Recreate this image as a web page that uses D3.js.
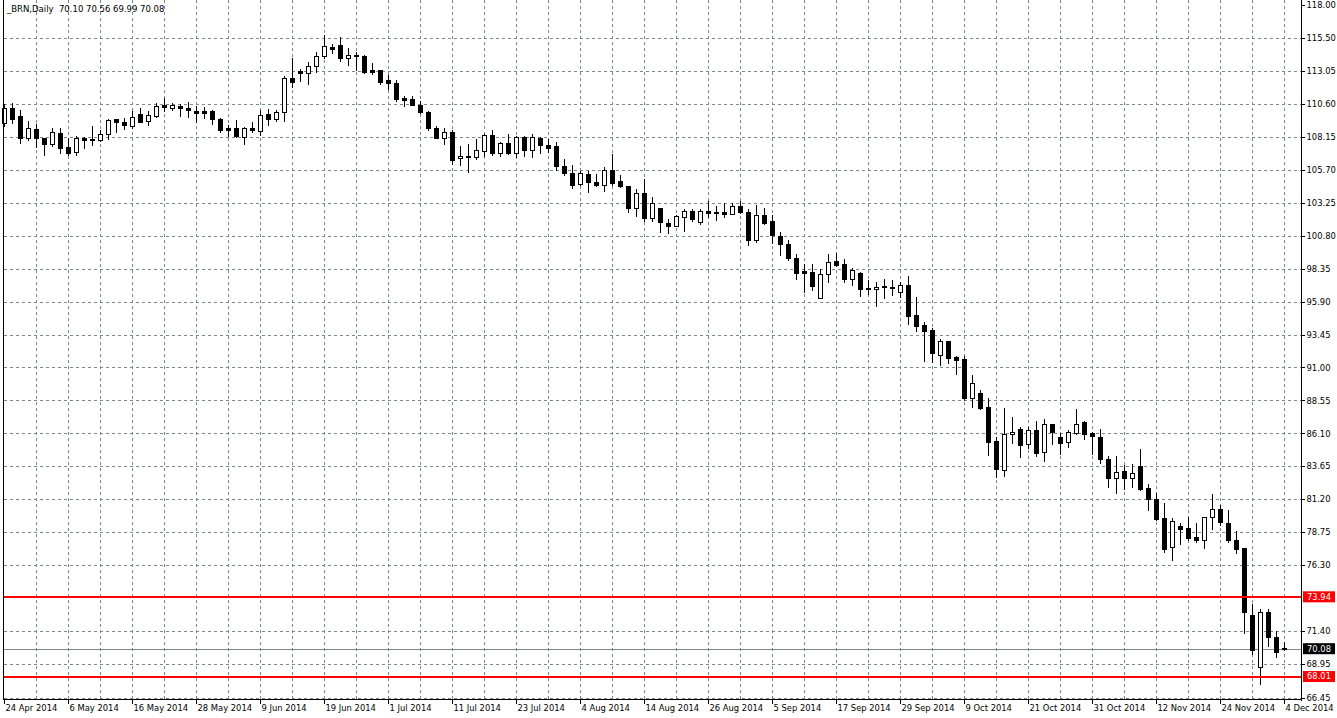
<!DOCTYPE html>
<html><head><meta charset="utf-8">
<script src="https://cdn.jsdelivr.net/npm/d3@7"></script>
<style>
html,body{margin:0;padding:0;background:#fff;}
svg{display:block;}
</style></head>
<body>
<script>
const title = "_BRN,Daily  70.10 70.56 69.99 70.08";
const openV = [109.18,110.30,109.73,108.10,108.73,108.05,107.60,108.43,107.38,107.00,108.05,108.00,107.95,108.35,109.45,109.28,108.95,109.83,109.35,109.70,110.50,110.30,110.48,110.33,110.10,110.05,110.10,109.48,108.78,108.78,108.18,108.80,108.60,109.87,109.45,110.00,112.52,113.07,112.90,113.42,114.16,114.83,115.00,114.01,114.28,114.19,113.14,113.10,112.35,112.18,111.01,110.99,110.54,109.99,108.83,108.06,108.53,106.57,106.75,106.65,107.07,108.31,106.94,107.69,106.94,108.15,107.16,108.10,107.56,107.48,106.00,105.46,104.65,105.39,104.82,104.57,105.68,104.89,104.52,102.85,104.00,102.11,102.87,101.78,101.54,102.20,102.67,101.83,102.67,102.53,102.57,102.43,103.02,102.60,100.50,102.35,101.86,100.75,100.21,99.17,98.15,98.13,96.20,97.98,98.89,98.67,97.61,98.05,96.90,96.86,97.03,97.01,96.62,97.11,94.89,94.14,93.77,91.96,92.95,91.77,91.64,88.70,89.07,88.03,85.53,83.38,86.02,86.42,85.28,86.35,84.69,86.79,85.80,85.43,86.10,86.92,86.10,85.80,84.17,82.76,83.30,82.76,83.67,82.02,81.20,79.79,77.61,79.22,79.07,78.40,78.13,79.91,80.46,79.42,78.18,77.59,72.61,68.72,72.83,70.98,70.10];
const highV = [110.60,110.65,110.15,109.35,109.10,108.10,108.85,108.80,108.10,108.23,108.15,108.95,108.65,109.48,109.50,109.55,110.05,110.30,110.05,110.68,111.03,110.70,110.63,110.78,110.45,110.35,110.15,109.55,109.03,109.40,108.88,109.28,110.12,110.24,110.17,112.67,114.04,113.22,113.71,114.46,115.70,115.05,115.60,114.78,114.46,114.24,113.67,113.14,112.77,112.40,111.23,111.19,110.79,110.09,108.95,108.83,108.63,107.51,107.64,107.96,108.38,108.63,107.76,108.38,108.22,108.22,108.35,108.17,107.98,107.76,106.50,106.08,105.58,105.63,105.39,105.88,106.87,105.34,104.52,104.30,105.02,103.71,102.87,102.03,102.33,102.80,102.77,102.77,103.36,103.04,103.21,103.26,103.36,102.82,103.12,102.87,102.35,101.05,100.45,99.41,98.72,98.72,98.35,99.41,99.54,99.09,98.42,98.10,97.53,97.36,97.56,97.48,97.36,97.78,96.25,94.39,93.97,93.15,92.95,91.84,91.84,90.43,89.32,88.70,85.80,87.95,87.34,86.54,86.55,87.02,87.14,86.79,86.10,86.35,87.91,87.04,86.17,86.40,84.42,84.42,83.75,83.80,84.91,82.34,81.65,80.90,79.79,79.42,79.86,79.42,79.91,81.60,80.78,80.41,78.85,77.59,73.43,73.03,73.03,71.42,70.56];
const lowV = [108.97,109.15,107.73,107.93,107.40,106.78,107.48,106.98,106.83,106.80,107.30,107.55,107.85,107.98,108.55,108.73,108.78,109.25,109.03,109.60,110.10,110.15,109.68,109.60,109.28,109.55,109.10,108.55,108.20,108.15,107.65,108.53,108.26,109.00,109.37,109.30,111.85,112.28,112.08,112.97,114.01,114.36,113.76,113.47,113.12,112.92,112.80,112.05,111.73,110.79,110.42,110.49,109.94,108.63,108.06,107.64,106.15,106.08,105.53,106.52,106.72,106.82,106.72,106.89,106.67,106.74,106.62,106.92,107.04,105.71,105.34,104.33,104.57,104.03,104.47,104.10,104.57,104.40,102.55,102.30,101.88,101.93,101.07,101.00,101.49,101.14,101.93,101.66,102.23,101.98,102.18,102.38,102.48,100.11,100.33,101.64,100.26,99.34,99.02,97.61,96.62,96.79,96.20,97.36,98.55,97.36,97.16,96.32,96.49,95.58,96.17,96.42,96.25,94.27,93.72,91.49,91.39,91.22,91.35,90.55,88.57,88.08,87.88,84.49,82.88,82.93,85.41,84.37,85.04,84.44,84.07,85.28,84.54,85.06,86.03,85.65,84.54,83.87,82.09,81.65,81.97,82.14,81.89,80.41,79.67,77.24,76.70,77.88,78.18,77.98,77.54,78.99,79.29,77.98,77.19,71.25,69.72,67.49,70.31,69.44,69.99];
const closeV = [110.28,109.48,108.10,108.78,108.05,107.60,108.50,107.35,106.98,108.05,107.90,107.90,108.35,109.40,109.28,109.00,109.63,109.25,109.80,110.43,110.40,110.55,110.30,110.15,109.93,109.95,109.45,108.70,108.68,108.25,108.80,108.70,109.80,109.45,110.00,112.52,112.20,112.90,113.42,114.16,114.90,114.66,114.01,114.24,114.16,113.00,113.00,112.20,112.15,110.94,110.86,110.49,109.99,108.80,108.06,108.51,106.47,106.75,106.65,107.17,108.26,106.97,107.69,106.94,108.15,107.16,108.15,107.53,107.36,105.95,105.44,104.57,105.46,104.77,104.55,105.68,104.70,104.47,102.85,104.00,102.11,103.27,101.81,101.54,102.28,102.67,102.08,102.67,102.50,102.50,102.43,103.04,102.55,100.50,102.35,101.74,100.82,100.16,99.17,98.05,98.05,97.06,97.98,98.87,98.62,97.61,98.28,96.86,96.86,97.01,97.00,96.91,97.11,94.84,94.09,93.72,92.09,92.95,91.72,91.57,88.75,89.81,88.00,85.48,83.43,86.05,86.17,85.26,86.35,84.62,86.79,86.17,85.36,86.17,86.77,86.03,85.90,84.17,82.76,83.20,82.76,83.13,81.97,81.20,79.74,77.51,79.59,79.02,78.35,78.13,79.86,80.46,79.47,78.13,77.51,72.78,69.96,72.83,70.93,69.81,70.08];
const dateLabels = ["24 Apr 2014","6 May 2014","16 May 2014","28 May 2014","9 Jun 2014","19 Jun 2014","1 Jul 2014","11 Jul 2014","23 Jul 2014","4 Aug 2014","14 Aug 2014","26 Aug 2014","5 Sep 2014","17 Sep 2014","29 Sep 2014","9 Oct 2014","21 Oct 2014","31 Oct 2014","12 Nov 2014","24 Nov 2014","4 Dec 2014"];
const barsPerLabel = 8;
const barsPerGrid = 4;
const priceTicks = [118.00,115.50,113.05,110.60,108.15,105.70,103.25,100.80,98.35,95.90,93.45,91.00,88.55,86.10,83.65,81.20,78.75,76.30,71.40,68.95,66.45];
const levelLines = [73.94, 68.01];
const lastPrice = 70.08;

const W = 1337, H = 718;
const left = 4, right = 1301, bottom = 700;
const FONT = "DejaVu Sans, Verdana, sans-serif";
const n = closeV.length;

const x = d3.scaleLinear().domain([0, n - 1]).range([4, 1284]);
const y = d3.scaleLinear().domain([66.45, 118]).range([697.5, 4.5]);
const px = v => Math.round(x(v));
const py = v => Math.round(y(v));

const svg = d3.select("body").append("svg").attr("width", W).attr("height", H)
  .style("font-family", FONT);
svg.append("rect").attr("width", W).attr("height", H).attr("fill", "#fff");

const grid = svg.append("g").attr("stroke", "#778899").attr("stroke-width", 1)
  .attr("stroke-dasharray", "3,3").attr("shape-rendering", "crispEdges");
// vertical grid
const gIdx = d3.range(barsPerGrid, n, barsPerGrid);
grid.selectAll("line.v").data(gIdx).join("line").attr("class", "v")
  .attr("x1", d => px(d) + 0.5).attr("x2", d => px(d) + 0.5)
  .attr("y1", 0).attr("y2", bottom);
// horizontal grid
grid.selectAll("line.h").data(priceTicks.slice(1)).join("line").attr("class", "h")
  .attr("x1", left).attr("x2", right)
  .attr("y1", d => py(d) + 0.5).attr("y2", d => py(d) + 0.5);

// last price line
svg.append("line").attr("x1", left).attr("x2", right)
  .attr("y1", py(lastPrice) + 0.5).attr("y2", py(lastPrice) + 0.5)
  .attr("stroke", "#808890").attr("stroke-width", 1).attr("shape-rendering", "crispEdges");

// candles
const data = d3.range(n).map(i => ({i, o: openV[i], h: highV[i], l: lowV[i], c: closeV[i]}));
const cg = svg.append("g").attr("shape-rendering", "crispEdges");
cg.selectAll("line.w").data(data).join("line").attr("class", "w")
  .attr("x1", d => px(d.i) + 0.5).attr("x2", d => px(d.i) + 0.5)
  .attr("y1", d => py(d.h)).attr("y2", d => py(d.l) + 1)
  .attr("stroke", "#000").attr("stroke-width", 1);
cg.selectAll("rect.b").data(data).join("rect").attr("class", "b")
  .attr("x", d => px(d.i) - 1.5)
  .attr("width", 4)
  .attr("y", d => py(Math.max(d.o, d.c)) + 0.5)
  .attr("height", d => Math.max(0, py(Math.min(d.o, d.c)) - py(Math.max(d.o, d.c))))
  .attr("fill", d => d.c > d.o ? "#fff" : "#000")
  .attr("stroke", "#000").attr("stroke-width", 1);

// level lines
svg.selectAll("line.lvl").data(levelLines).join("line").attr("class", "lvl")
  .attr("x1", left).attr("x2", right)
  .attr("y1", d => py(d)).attr("y2", d => py(d))
  .attr("stroke", "#ff0000").attr("stroke-width", 2).attr("shape-rendering", "crispEdges");

// frame
svg.append("line").attr("x1", 3.5).attr("x2", 3.5).attr("y1", 0).attr("y2", bottom)
  .attr("stroke", "#000").attr("shape-rendering", "crispEdges");

// right axis
const yAxis = d3.axisRight(y).tickValues(priceTicks).tickSize(3).tickSizeOuter(0)
  .tickPadding(2).tickFormat(d3.format(".2f"));
const ya = svg.append("g").attr("transform", `translate(${right + 0.5},0)`).call(yAxis);
ya.select(".domain").attr("d", `M0,0V${bottom + 0.5}`).attr("stroke", "#000").attr("shape-rendering", "crispEdges");
ya.selectAll(".tick line").attr("stroke", "#000").attr("shape-rendering", "crispEdges");
ya.selectAll(".tick text").attr("font-family", FONT).attr("font-size", "8.4px").attr("fill", "#000");

// bottom axis
const labelIdx = dateLabels.map((d, k) => k * barsPerLabel);
const xAxis = d3.axisBottom(x).tickValues(labelIdx).tickSize(4).tickSizeOuter(0)
  .tickFormat((d, k) => dateLabels[k]);
const xa = svg.append("g").attr("transform", `translate(0,${bottom - 0.5})`).call(xAxis);
xa.select(".domain").attr("d", `M${left},0H${right + 1}`).attr("stroke", "#000").attr("shape-rendering", "crispEdges");
xa.selectAll(".tick").attr("transform", d => `translate(${px(d) + 0.5},0)`);
xa.selectAll(".tick line").attr("stroke", "#000").attr("shape-rendering", "crispEdges");
xa.selectAll(".tick text").attr("font-family", FONT).attr("font-size", "8.4px").attr("fill", "#000")
  .attr("text-anchor", "start").attr("x", 1).attr("y", 6).attr("dy", "0.71em");

// price tags
const tags = [{v: levelLines[0], bg: "#ff0000"}, {v: lastPrice, bg: "#000"}, {v: levelLines[1], bg: "#ff0000"}];
const tg = svg.selectAll("g.tag").data(tags).join("g").attr("class", "tag")
  .attr("transform", d => `translate(${right + 2},${y(d.v)})`);
tg.append("rect").attr("x", 0).attr("y", -5.5).attr("width", 32).attr("height", 11).attr("fill", d => d.bg);
tg.append("text").attr("x", 4).attr("y", 0).attr("dy", "0.35em")
  .attr("font-size", "8.4px").attr("fill", "#fff").text(d => d3.format(".2f")(d.v));

// title
svg.append("text").attr("x", 7).attr("y", 12).attr("font-size", "8.5px").attr("fill", "#000")
  .attr("xml:space", "preserve").style("white-space", "pre").text(title);
</script>
</body></html>
